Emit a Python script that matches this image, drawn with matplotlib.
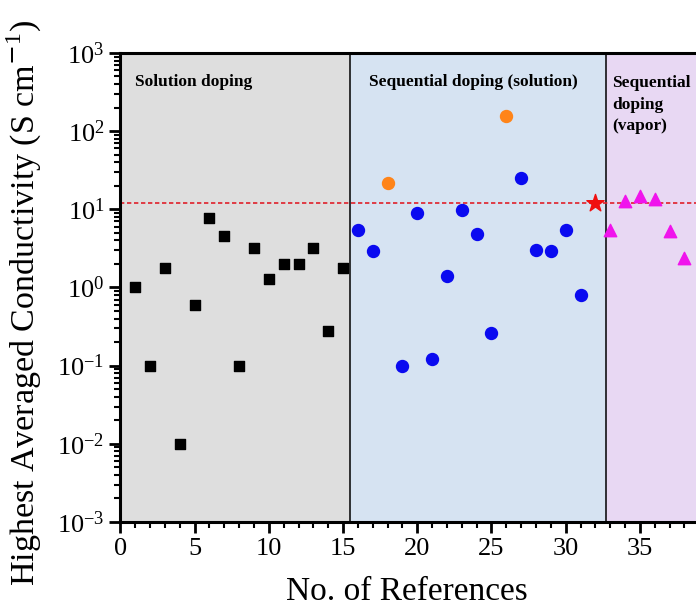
import matplotlib
matplotlib.use('Agg')
import matplotlib.pyplot as plt
from matplotlib.ticker import LogLocator, MultipleLocator, NullFormatter

plt.rcParams['font.family'] = ['Liberation Serif', 'DejaVu Serif']
plt.rcParams['mathtext.fontset'] = 'custom'
plt.rcParams['mathtext.rm'] = 'Liberation Serif'
plt.rcParams['axes.unicode_minus'] = False

# solution doping (black squares)
solRefs = list(range(1, 16))
solVals = [1.0, 0.1, 1.8, 0.01, 0.6, 7.8, 4.5, 0.1, 3.2, 1.3, 2.0, 2.0, 3.2, 0.28, 1.8]

# sequential doping from solution (blue circles)
seqRefs = [16, 17, 19, 20, 21, 22, 23, 24, 25, 27, 28, 29, 30, 31]
seqVals = [5.4, 2.95, 0.1, 8.9, 0.12, 1.4, 9.8, 4.9, 0.26, 25.5, 3.0, 2.95, 5.5, 0.8]

# orange highlights within the sequential (solution) group
hiRefs = [18, 26]
hiVals = [21.5, 155]

# sequential doping from vapor (magenta triangles)
vapRefs = [33, 34, 35, 36, 37, 38]
vapVals = [5.4, 12.9, 15.0, 13.6, 5.2, 2.4]

# this work
starRef = [32]
starVal = [12.0]
refLine = 12.0

xTicks = [0, 5, 10, 15, 20, 25, 30, 35]

fig = plt.figure(figsize=(6.96, 6.10), dpi=100)
ax = fig.add_axes([0.173, 0.1443, 0.853, 0.7689])

ax.axvspan(0, 15.5, color='#dedede', zorder=0)
ax.axvspan(15.5, 32.7, color='#d6e3f2', zorder=0)
ax.axvspan(32.7, 40, color='#e8d8f3', zorder=0)
ax.axvline(15.5, color='black', lw=1.1, zorder=1)
ax.axvline(32.7, color='black', lw=1.1, zorder=1)

ax.axhline(refLine, color='#e0202a', lw=1.2, ls=(0, (2.6, 1.6)), zorder=2)

ax.scatter(solRefs, solVals, marker='s', s=54, color='black', zorder=3)
ax.scatter(seqRefs, seqVals, marker='o', s=74, color='#0a0af0', zorder=3)
ax.scatter(hiRefs, hiVals, marker='o', s=74, color='#ff8419', zorder=3)
ax.scatter(vapRefs, vapVals, marker='^', s=80, color='#f014ec', zorder=3)
ax.scatter(starRef, starVal, marker='*', s=170, color='#f01010', zorder=4)

ax.set_yscale('log')
ax.set_ylim(1e-3, 1e3)
ax.set_xlim(0, 40)

ax.set_xticks(xTicks)
ax.xaxis.set_minor_locator(MultipleLocator(1))
ax.yaxis.set_major_locator(LogLocator(base=10, numticks=10))
ax.yaxis.set_minor_locator(LogLocator(base=10, subs=range(2, 10), numticks=20))
ax.yaxis.set_minor_formatter(NullFormatter())

ax.tick_params(which='major', direction='out', length=8, width=2, labelsize=19)
ax.tick_params(which='minor', direction='out', length=4.5, width=1.5)
for side in ['left', 'bottom', 'top']:
	ax.spines[side].set_linewidth(2.2)
ax.spines['right'].set_visible(False)

ax.set_xlabel('No. of References', fontsize=24)
ax.set_ylabel('Highest Averaged Conductivity (S cm$^{\\mathsf{-}1}$)', fontsize=24.5)
ax.xaxis.set_label_coords(0.4826, -0.117)
ax.yaxis.set_label_coords(-0.128, 0.467)

ax.text(1.0, 4.3e2, 'Solution doping', fontsize=12.5, fontweight='bold', va='center')
ax.text(23.77, 4.3e2, 'Sequential doping (solution)', fontsize=12.5, fontweight='bold', va='center', ha='center')
ax.text(33.15, 5.2e2, 'Sequential\ndoping\n(vapor)', fontsize=12.5, fontweight='bold', va='top', linespacing=1.45)

fig.savefig('out.png', dpi=100)
